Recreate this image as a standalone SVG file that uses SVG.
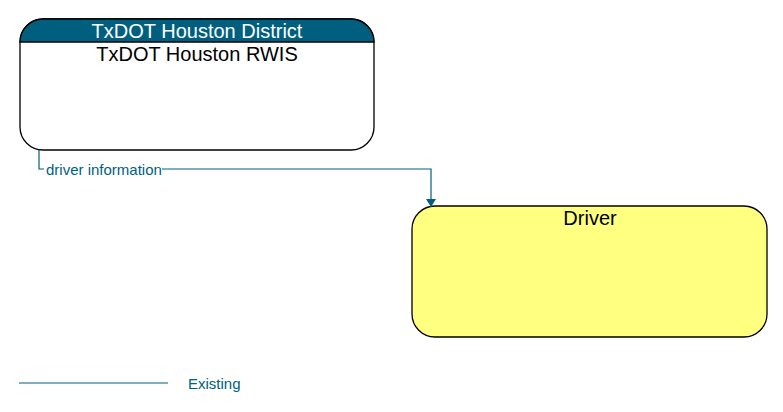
<svg xmlns="http://www.w3.org/2000/svg" width="783" height="412" viewBox="0 0 783 412">
<defs>
<style>
.t{font-family:"Liberation Sans",Arial,sans-serif;}
.nm{font-size:20px;fill:#000;text-anchor:middle;}
.hd{font-size:20px;fill:#fff;text-anchor:middle;}
.lb{font-size:15px;fill:#005f7f;}
.ln{fill:none;stroke:#005f7f;stroke-width:1.2;}
</style>
<marker id="arr" markerWidth="10" markerHeight="10" refX="8" refY="5" orient="auto" markerUnits="userSpaceOnUse" viewBox="0 0 10 10">
<path d="M0,0 L8,5 L0,10 Z" fill="#005f7f"/>
</marker>
</defs>
<rect width="783" height="412" fill="#fff"/>
<g id="node-rwis">
<rect x="20" y="19" width="354" height="131" rx="23" ry="23" fill="#fff" stroke="#000" stroke-width="1.3"/>
<path d="M20,42 A23,23 0 0 1 43,19 L351,19 A23,23 0 0 1 374,42 Z" fill="#005f7f" stroke="#000" stroke-width="1.3"/>
<text class="t hd" x="197" y="38">TxDOT Houston District</text>
<text class="t nm" x="197" y="61">TxDOT Houston RWIS</text>
</g>
<g id="node-driver">
<rect x="412" y="206" width="355" height="131" rx="23" ry="23" fill="#ffff80" stroke="#000" stroke-width="1.3"/>
<text class="t nm" x="590" y="225">Driver</text>
</g>
<g id="connectors">
<path class="ln" d="M39,150 L39,169 L431,169 L431,207" marker-end="url(#arr)"/>
<rect x="44" y="161" width="118" height="16" fill="#fff"/>
<text class="t lb" x="46" y="175">driver information</text>
</g>
<g id="legend">
<line class="ln" x1="19" y1="383" x2="168" y2="383"/>
<text class="t lb" x="188" y="389">Existing</text>
</g>
</svg>
